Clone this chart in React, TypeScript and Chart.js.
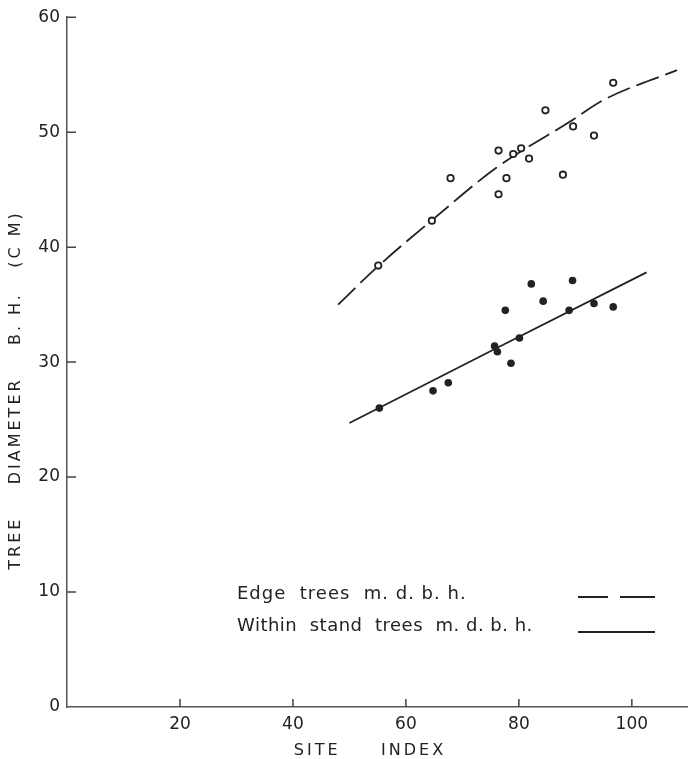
import React, { useEffect, useRef } from "react";
import { Chart, registerables } from "chart.js";

Chart.register(...registerables);

// Edge trees (open circles)
const edgeSiteIndex = [55.1, 64.6, 67.9, 76.4, 76.4, 77.8, 79.0, 80.4, 81.8, 84.7, 87.8, 89.6, 93.3, 96.7];
const edgeDiameter = [38.4, 42.3, 46.0, 48.4, 44.6, 46.0, 48.1, 48.6, 47.7, 51.9, 46.3, 50.5, 49.7, 54.3];

// Within stand trees (filled circles)
const withinSiteIndex = [55.3, 64.8, 67.5, 75.7, 76.2, 77.6, 78.6, 80.1, 82.2, 84.3, 88.9, 89.5, 93.3, 96.7];
const withinDiameter = [26.0, 27.5, 28.2, 31.4, 30.9, 34.5, 29.9, 32.1, 36.8, 35.3, 34.5, 37.1, 35.1, 34.8];

// Fitted curves
const edgeCurveX = [48, 55, 65, 76, 89, 95, 108];
const edgeCurveY = [35.0, 38.3, 42.5, 46.9, 50.9, 52.8, 55.4];
const withinLineX = [50, 76, 102.6];
const withinLineY = [24.7, 31.2, 37.8];

// Axes
const xTickValues = [20, 40, 60, 80, 100];
const yTickValues = [0, 10, 20, 30, 40, 50, 60];
const xAxisTitle = "SITE     INDEX";
const yAxisTitle = "TREE    DIAMETER    B. H.   (C M)";
const legendLabels = ["Edge  trees  m. d. b. h.", "Within  stand  trees  m. d. b. h."];

const INK = "#222";
const FONT = '"DejaVu Sans", sans-serif';

const decorPlugin = {
  id: "decor",
  afterDraw(chart: any) {
    const { ctx, chartArea: a, scales } = chart;
    const x = scales.x;
    const y = scales.y;
    ctx.save();
    // inward tick marks
    ctx.strokeStyle = "#444";
    ctx.lineWidth = 1.5;
    ctx.beginPath();
    xTickValues.forEach((v) => {
      const px = x.getPixelForValue(v);
      ctx.moveTo(px, a.bottom);
      ctx.lineTo(px, a.bottom - 8);
    });
    yTickValues.forEach((v) => {
      if (v === 0) return;
      const py = y.getPixelForValue(v);
      ctx.moveTo(a.left, py);
      ctx.lineTo(a.left + 9, py);
    });
    ctx.stroke();

    // axis titles
    ctx.fillStyle = INK;
    ctx.font = "16px " + FONT;
    (ctx as any).letterSpacing = "3px";
    ctx.textAlign = "center";
    ctx.textBaseline = "middle";
    ctx.fillText(xAxisTitle, 370, 751);
    ctx.save();
    ctx.translate(16, 390);
    ctx.rotate(-Math.PI / 2);
    ctx.fillText(yAxisTitle, 0, 0);
    ctx.restore();

    // legend
    ctx.font = "18px " + FONT;
    ctx.textAlign = "left";
    (ctx as any).letterSpacing = "1px";
    ctx.fillText(legendLabels[0], 237, 594);
    (ctx as any).letterSpacing = "0.5px";
    ctx.fillText(legendLabels[1], 237, 626);
    ctx.strokeStyle = INK;
    ctx.lineWidth = 1.8;
    ctx.beginPath();
    ctx.moveTo(578, 597);
    ctx.lineTo(608, 597);
    ctx.moveTo(620, 597);
    ctx.lineTo(655, 597);
    ctx.moveTo(578, 632);
    ctx.lineTo(655, 632);
    ctx.stroke();
    ctx.restore();
  },
};

export default function App() {
  const ref = useRef<HTMLCanvasElement | null>(null);
  useEffect(() => {
    if (!ref.current) return;
    const chart = new Chart(ref.current, {
      type: "scatter",
      data: {
        datasets: [
          {
            type: "line",
            label: "Edge fit",
            data: edgeCurveX.map((v, i) => ({ x: v, y: edgeCurveY[i] })),
            borderColor: INK,
            borderWidth: 1.8,
            borderDash: [24, 7],
            pointRadius: 0,
            cubicInterpolationMode: "monotone",
            fill: false,
            order: 3,
          },
          {
            type: "line",
            label: "Within fit",
            data: withinLineX.map((v, i) => ({ x: v, y: withinLineY[i] })),
            borderColor: INK,
            borderWidth: 1.8,
            pointRadius: 0,
            fill: false,
            order: 3,
          },
          {
            label: "Edge trees",
            data: edgeSiteIndex.map((v, i) => ({ x: v, y: edgeDiameter[i] })),
            pointRadius: 3.2,
            pointBorderWidth: 1.8,
            pointBorderColor: INK,
            pointBackgroundColor: "#fff",
            showLine: false,
            order: 1,
          },
          {
            label: "Within stand trees",
            data: withinSiteIndex.map((v, i) => ({ x: v, y: withinDiameter[i] })),
            pointRadius: 3.8,
            pointBorderWidth: 0,
            pointBackgroundColor: INK,
            showLine: false,
            order: 1,
          },
        ],
      },
      options: {
        animation: false,
        responsive: false,
        layout: { padding: { top: 17, right: 0, bottom: 0, left: 0 } },
        plugins: { legend: { display: false }, tooltip: { enabled: false } },
        scales: {
          x: {
            type: "linear",
            min: 0,
            max: 109.8,
            afterFit: (s: any) => {
              s.height = 52;
            },
            afterBuildTicks: (s: any) => {
              s.ticks = xTickValues.map((v) => ({ value: v }));
            },
            grid: { display: false, drawTicks: false },
            border: { display: true, color: "#555", width: 1.5 },
            ticks: { color: INK, font: { family: FONT, size: 17 }, padding: 7, maxRotation: 0 },
          },
          y: {
            type: "linear",
            min: 0,
            max: 60,
            afterFit: (s: any) => {
              s.width = 67;
            },
            afterBuildTicks: (s: any) => {
              s.ticks = yTickValues.map((v) => ({ value: v }));
            },
            grid: { display: false, drawTicks: false },
            border: { display: true, color: "#555", width: 1.5 },
            ticks: { color: INK, font: { family: FONT, size: 17 }, padding: 7 },
          },
        },
      },
      plugins: [decorPlugin],
    });
    return () => chart.destroy();
  }, []);
  return (
    <div style={{ position: "fixed", left: 0, top: 0, width: 693, height: 759, background: "#fff" }}>
      <canvas ref={ref} width={693} height={759} />
    </div>
  );
}
